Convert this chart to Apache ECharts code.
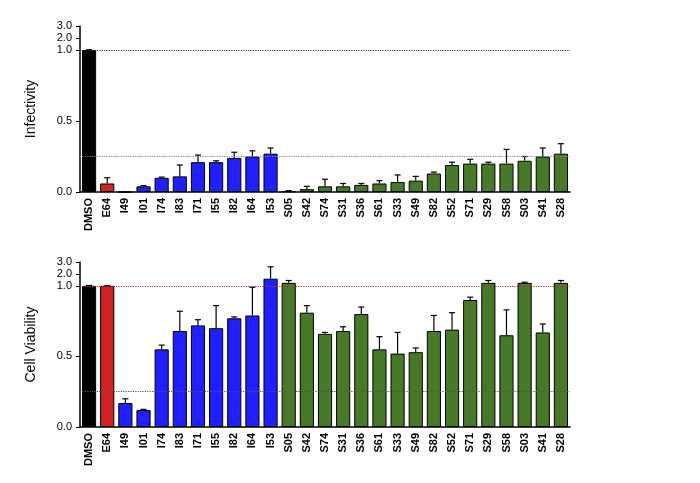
<!DOCTYPE html>
<html><head><meta charset="utf-8">
<script src="https://cdn.jsdelivr.net/npm/echarts@6/dist/echarts.min.js"></script>
<style>html,body{margin:0;background:#fff}#c{width:700px;height:483px}</style>
</head><body><div id="c"></div>
<script>
const categories=['DMSO','E64','I49','I01','I74','I83','I71','I55','I82','I64','I53','S05','S42','S74','S31','S36','S61','S33','S49','S82','S52','S71','S29','S58','S03','S41','S28'];
const infectivity=[1.0,0.06,0,0.04,0.10,0.11,0.21,0.21,0.24,0.25,0.27,0.005,0.02,0.04,0.04,0.05,0.06,0.07,0.08,0.13,0.19,0.20,0.20,0.20,0.22,0.25,0.27];
const infectivityErr=[0.02,0.04,0,0.005,0.005,0.08,0.05,0.01,0.04,0.04,0.04,0.005,0.02,0.05,0.02,0.01,0.02,0.05,0.03,0.01,0.02,0.03,0.01,0.10,0.03,0.06,0.07];
const viability=[1.0,1.0,0.17,0.12,0.55,0.68,0.72,0.70,0.77,0.79,1.6,1.25,0.81,0.66,0.68,0.80,0.55,0.52,0.53,0.68,0.69,0.90,1.25,0.65,1.25,0.67,1.25];
const viabilityErr=[0.03,0.02,0.03,0.005,0.03,0.14,0.04,0.16,0.01,0.20,1.0,0.2,0.05,0.01,0.03,0.05,0.09,0.15,0.03,0.11,0.12,0.02,0.2,0.18,0.05,0.06,0.2];
const tickValues=[0,0.5,1.0,2.0,3.0];
const groupColors={D:'#000000',E:'#d42020',I:'#1f1fff',S:'#467a28'};
const K=12/142;
const tf=v=>v<=1?v:1+(v-1)*K;
const cats=categories;
function color(c){return groupColors[c[0]]||'#000';}
const grids=[{left:80,right:130,top:26,height:166},{left:80,right:130,top:262,height:165}];
function mk(i,vals,errs,name,line1Color,line2Color){
  return {
    bar:{type:'bar',xAxisIndex:i,yAxisIndex:i,barCategoryGap:'22%',
      data:vals.map((v,j)=>({value:tf(v),itemStyle:{color:color(cats[j]),borderColor:'#000',borderWidth:1}})),
      markLine:{silent:true,symbol:'none',label:{show:false},data:[
        {yAxis:1,lineStyle:{type:'dotted',color:line1Color,width:1.2}},
        {yAxis:0.25,lineStyle:{type:'dotted',color:line2Color,width:1.2}}]},z:2},
    err:{type:'custom',xAxisIndex:i,yAxisIndex:i,z:3,
      data:vals.map((v,j)=>[j,tf(v),tf(v+errs[j])]),
      renderItem:(p,api)=>{const x=api.coord([api.value(0),0])[0];const y0=api.coord([0,api.value(1)])[1];const y1=api.coord([0,api.value(2)])[1];
        return {type:'group',children:[
          {type:'line',shape:{x1:x,y1:y0,x2:x,y2:y1},style:{stroke:'#000',lineWidth:1.2}},
          {type:'line',shape:{x1:x-3,y1:y1,x2:x+3,y2:y1},style:{stroke:'#000',lineWidth:1.2}}]};}}
  };
}
const a=mk(0,infectivity,infectivityErr,'Infectivity','#333','#888');
const b=mk(1,viability,viabilityErr,'Cell Viability','#b03030','#555');
function xa(i){return {type:'category',gridIndex:i,data:cats,axisTick:{show:false},
  axisLine:{lineStyle:{color:'#000',width:1.5}},
  axisLabel:{rotate:90,color:'#000',fontSize:11,fontFamily:'Liberation Sans',fontWeight:'bold',margin:6}};}
function ya(i,name){return {type:'value',gridIndex:i,min:0,max:tf(3),name:name,nameLocation:'middle',nameGap:42,
  nameTextStyle:{fontSize:14,color:'#000',fontFamily:'Liberation Sans'},
  splitLine:{show:false},axisLine:{show:true,lineStyle:{color:'#000',width:1.5}},
  axisTick:{show:true,customValues:tickValues.map(tf),length:4},
  axisLabel:{color:'#000',fontSize:11,fontFamily:'Liberation Sans',customValues:tickValues.map(tf),
    formatter:v=>{let r=v<=1.0001?v:1+(v-1)/K;return (Math.round(r*10)/10).toFixed(1);}}};}
const chart=echarts.init(document.getElementById('c'));
chart.setOption({animation:false,grid:grids,xAxis:[xa(0),xa(1)],yAxis:[ya(0,'Infectivity'),ya(1,'Cell Viability')],
  series:[a.bar,a.err,b.bar,b.err]});
</script></body></html>
